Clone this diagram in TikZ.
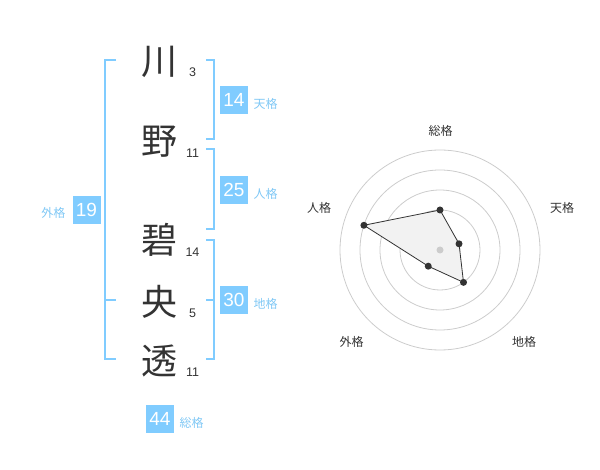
\documentclass[tikz,border=0pt]{standalone}
\usepackage{fontspec}
\setmainfont{Liberation Sans}
\newfontfamily\jpfont{Noto Sans CJK JP}
\definecolor{kblue}{HTML}{80CCFF}
\definecolor{ltxt}{HTML}{80C8F5}
\definecolor{dk}{HTML}{333333}
\definecolor{ringc}{HTML}{CCCCCC}
\definecolor{polyfill}{HTML}{F2F2F2}
\begin{document}
\begin{tikzpicture}[x=1pt,y=-1pt,
  kanji/.style={font=\jpfont\fontsize{36}{36}\selectfont, text=dk, inner sep=0, anchor=base},
  strokes/.style={font=\fontsize{12.5}{12.5}\selectfont, text=dk, inner sep=0, anchor=base},
  numbox/.style={fill=kblue, text=white, minimum size=28pt, inner sep=0, font=\fontsize{19}{19}\selectfont},
  gelabel/.style={font=\jpfont\fontsize{12}{12}\selectfont, text=ltxt, inner sep=0},
  radlabel/.style={font=\jpfont\fontsize{12}{12}\selectfont, text=dk, inner sep=0},
  bracketline/.style={draw=kblue, line width=2pt},
  ringline/.style={draw=ringc, line width=0.8pt},
  datadot/.style={circle, fill=dk, minimum size=7pt, inner sep=0},
  centerdot/.style={circle, fill=ringc, minimum size=7pt, inner sep=0},
  polyline/.style={draw=dk, fill=polyfill, line width=0.8pt}
]
\useasboundingbox (0,0) rectangle (600,470);

% kanji
\node[kanji] (k1) at (159,74.5) {川};
\node[kanji] (k2) at (159,154.5) {野};
\node[kanji] (k3) at (159,254) {碧};
\node[kanji] (k4) at (159,315.5) {央};
\node[kanji] (k5) at (159,374) {透};

% stroke counts
\node[strokes] (n1) at (192.5,77) {3};
\node[strokes] (n2) at (192.5,157.5) {11};
\node[strokes] (n3) at (192.5,257) {14};
\node[strokes] (n4) at (192.5,317.5) {5};
\node[strokes] (n5) at (192.5,377) {11};

% brackets
\draw[bracketline] (116,60) -- (105,60) -- (105,359) -- (116,359);
\draw[bracketline] (105,300) -- (116,300);
\draw[bracketline] (206,60) -- (214,60) -- (214,139) -- (206,139);
\draw[bracketline] (206,149) -- (214,149) -- (214,229) -- (206,229);
\draw[bracketline] (206,240) -- (214,240) -- (214,359) -- (206,359);
\draw[bracketline] (206,300) -- (214,300);

% boxes
\node[numbox] (b1) at (234,100) {14};
\node[numbox] (b2) at (234,190) {25};
\node[numbox] (b3) at (86.5,210) {19};
\node[numbox] (b4) at (234,300) {30};
\node[numbox] (b5) at (160,419) {44};

% labels
\node[gelabel] (l1) at (265.7,104) {天格};
\node[gelabel] (l2) at (265.7,194) {人格};
\node[gelabel] (l3) at (53.3,213.3) {外格};
\node[gelabel] (l4) at (265.7,304.3) {地格};
\node[gelabel] (l5) at (191.7,422.7) {総格};

% radar
\begin{scope}[shift={(440,250)}]
  \foreach \r in {20,40,60,80,100} \draw[ringline] (0,0) circle[radius=\r];
  \coordinate (p1) at (-90:40);
  \coordinate (p2) at (-18:20);
  \coordinate (p3) at (54:40);
  \coordinate (p4) at (126:20);
  \coordinate (p5) at (198:80);
  \path[polyline] (p1) -- (p2) -- (p3) -- (p4) -- (p5) -- cycle;
  \node[centerdot] (c0) at (0,0) {};
  \node[datadot] (d1) at (p1) {};
  \node[datadot] (d2) at (p2) {};
  \node[datadot] (d3) at (p3) {};
  \node[datadot] (d4) at (p4) {};
  \node[datadot] (d5) at (p5) {};
\end{scope}
\node[radlabel] (r1) at (440.7,130.7) {総格};
\node[radlabel] (r2) at (562,208) {天格};
\node[radlabel] (r3) at (319,208) {人格};
\node[radlabel] (r4) at (351.7,341.7) {外格};
\node[radlabel] (r5) at (524,341.7) {地格};
\end{tikzpicture}
\end{document}
